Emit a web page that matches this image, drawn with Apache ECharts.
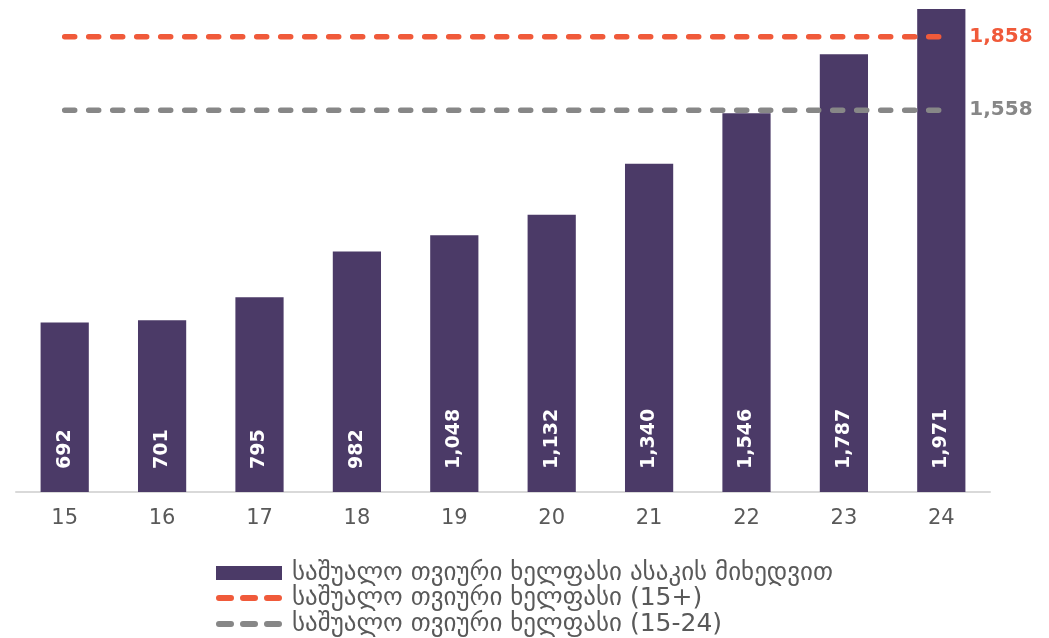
<!DOCTYPE html>
<html>
<head>
<meta charset="utf-8">
<script src="https://cdn.jsdelivr.net/npm/echarts@6/dist/echarts.min.js"></script>
<style>
  html, body { margin: 0; padding: 0; background: #fff; }
  #chart { width: 1049px; height: 638px; }
</style>
</head>
<body>
<div id="chart"></div>
<script>
// ასაკი და საშუალო ხელფასი
const ages = ['15', '16', '17', '18', '19', '20', '21', '22', '23', '24'];
const wages = [692, 701, 795, 982, 1048, 1132, 1340, 1546, 1787, 1971];
const avgAll = 1858;     // 15+
const avgYouth = 1558;   // 15-24

const seriesNames = [
  'საშუალო თვიური ხელფასი ასაკის მიხედვით',
  'საშუალო თვიური ხელფასი (15+)',
  'საშუალო თვიური ხელფასი (15-24)'
];

const fmt = v => Number(v).toLocaleString('en-US');
const FONT = 'DejaVu Sans';
const ORANGE = '#f05a3a';
const GREY = '#878787';

// three rounded dashes for the legend
const dashIcon = 'path://M3,0h12a3,3 0 0 1 0,6h-12a3,3 0 0 1 0,-6z' +
  'M27,0h12a3,3 0 0 1 0,6h-12a3,3 0 0 1 0,-6z' +
  'M51,0h12a3,3 0 0 1 0,6h-12a3,3 0 0 1 0,-6z';

const chart = echarts.init(document.getElementById('chart'));

function dashed(name, value, color) {
  return {
    name: name,
    type: 'line',
    data: ages.map(() => value),
    symbol: 'none',
    silent: true,
    z: 5,
    lineStyle: { color: color, width: 5.5, type: [10, 14], cap: 'round' },
    itemStyle: { color: color },
    endLabel: {
      show: true,
      distance: 28,
      formatter: p => fmt(p.value),
      color: color,
      fontFamily: FONT,
      fontWeight: 'bold',
      fontSize: 20
    }
  };
}

// one legend per row so the rows sit where the reference has them
function legendRow(name, center, icon, h) {
  return {
    top: center - 13,
    left: 216,
    padding: 0,
    itemWidth: 66,
    itemHeight: h,
    itemGap: 0,
    icon: icon,
    textStyle: { fontFamily: FONT, fontSize: 25, lineHeight: 26, color: '#595959', padding: [0, 0, 0, 5] },
    data: [name]
  };
}

chart.setOption({
  animation: false,
  textStyle: { fontFamily: FONT },
  grid: { left: 16, right: 59, top: 2, bottom: 146 },
  legend: [
    legendRow(seriesNames[0], 573, 'rect', 14),
    legendRow(seriesNames[1], 598, dashIcon, 7),
    legendRow(seriesNames[2], 624, dashIcon, 7)
  ],
  xAxis: {
    type: 'category',
    data: ages,
    axisLine: { lineStyle: { color: '#d9d9d9', width: 2 } },
    axisTick: { show: false },
    axisLabel: { color: '#595959', fontSize: 21, fontFamily: FONT, margin: 16 }
  },
  yAxis: {
    type: 'value',
    min: 0,
    max: 2000,
    show: false,
    splitLine: { show: false }
  },
  series: [
    {
      name: seriesNames[0],
      type: 'bar',
      data: wages,
      barWidth: '49.5%',
      itemStyle: { color: '#4b3a67' },
      label: {
        show: true,
        position: 'insideBottom',
        rotate: 90,
        align: 'left',
        verticalAlign: 'middle',
        distance: 23,
        formatter: p => fmt(p.value),
        color: '#fff',
        fontFamily: FONT,
        fontWeight: 'bold',
        fontSize: 19
      }
    },
    dashed(seriesNames[1], avgAll, ORANGE),
    dashed(seriesNames[2], avgYouth, GREY)
  ]
});
</script>
</body>
</html>
